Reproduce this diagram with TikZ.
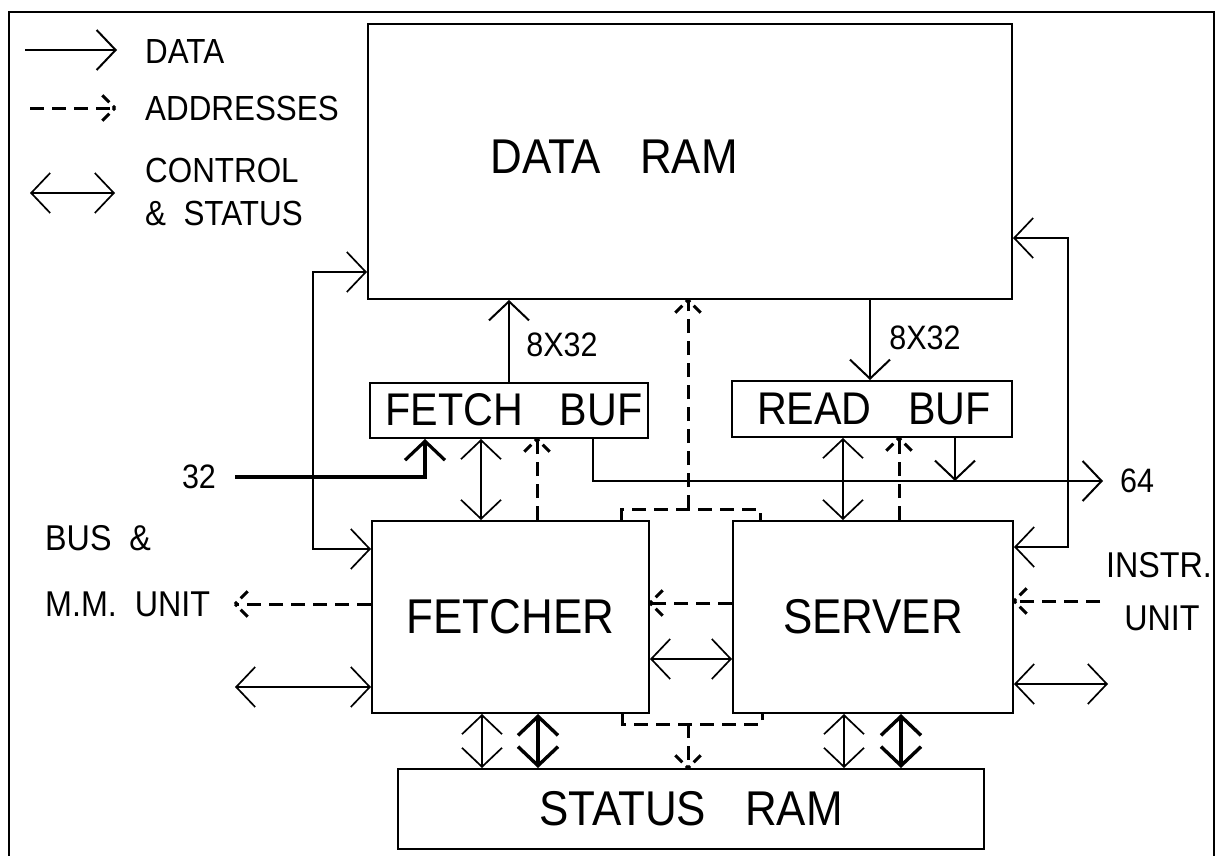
\documentclass[tikz,border=0pt]{standalone}
\usepackage{fontspec}
\setmainfont{Liberation Sans}[FakeStretch=0.9]
\usetikzlibrary{arrows.meta,decorations.markings}

% wide gap between the words of a block title
\newcommand\wgap{\hspace{0.8em}}

\tikzset{
  barb/.tip={Straight Barb[length=19bp,width=40bp]},
  box/.style={draw, line width=2bp, rectangle, inner sep=0pt},
  txt/.style={inner sep=0pt, anchor=center},
  bigfont/.style={font=\fontsize{49}{51}\selectfont},
  big/.style={txt, bigfont},
  bufname/.style={txt, font=\fontsize{46}{48}\selectfont},
  legend/.style={txt, anchor=west, font=\fontsize{35}{37}\selectfont},
  side/.style={txt, font=\fontsize{36}{38}\selectfont},
  width/.style={txt, font=\fontsize{34}{36}\selectfont},
  data/.style={line width=2bp, -barb},
  datathick/.style={line width=3.2bp, -barb},
  ctrl/.style={line width=1.7bp, barb-barb},
  ctrlthick/.style={line width=3.4bp, barb-barb},
  addrline/.style={line width=3bp, dash pattern=on 14bp off 8bp},
  addr/.style={addrline, postaction={decorate},
    decoration={markings, mark=at position 1 with {
      \draw[line width=3bp, dash pattern=on 3bp off 5bp on 10bp off 40bp]
        (0,0) -- (-14bp,14bp) (0,0) -- (-14bp,-14bp);}}},
}

\begin{document}
\begin{tikzpicture}[x=1bp, y=-1bp]
\useasboundingbox (0,0) rectangle (1219,856);

% outer frame (runs off the bottom of the sheet)
\draw[line width=2.5bp] (9,856) -- (9,12) -- (1214,12) -- (1214,856);

% ---- legend ----
\coordinate (lgDa) at (25,50);   \coordinate (lgDb) at (117,50);
\coordinate (lgAa) at (30,108);  \coordinate (lgAb) at (115,108);
\coordinate (lgCa) at (30,193);  \coordinate (lgCb) at (115,193);
\draw[data] (lgDa) -- (lgDb);
\draw[addr] (lgAa) -- (lgAb);
\draw[ctrl] (lgCa) -- (lgCb);
\node[legend] (lgdata) at (145,52) {DATA};
\node[legend] (lgaddr) at (145,108) {ADDRESSES};
\node[legend] (lgctl)  at (145,170) {CONTROL};
\node[legend] (lgst)   at (145,213) {\&\ \ STATUS};

% ---- blocks ----
\node[box, minimum width=644bp, minimum height=275bp] (dataram)   at (690,161.5) {};
\node[big] (dataramtxt) at (614,157) {DATA\wgap RAM};
\node[box, minimum width=278bp, minimum height=55bp]  (fetchbuf)  at (509,410.5) {};
\node[bufname] (fetchbuftxt) at (514,410) {FETCH\wgap BUF};
\node[box, minimum width=280bp, minimum height=56bp]  (readbuf)   at (872,409) {};
\node[bufname] (readbuftxt) at (874,409) {READ\wgap BUF};
\node[box, bigfont, minimum width=277bp, minimum height=192bp] (fetcher)   at (510.5,617) {FETCHER};
\node[box, bigfont, minimum width=280bp, minimum height=192bp] (server)    at (873,617) {SERVER};
\node[box, bigfont, minimum width=586bp, minimum height=80bp]  (statusram) at (691,809) {STATUS\wgap RAM};

% ---- data paths ----
\draw[data] (fetchbuf.north -| 509,0) -- (dataram.south -| 509,0);
\node[width] (w1) at (562,345) {8X32};
\draw[data] (dataram.south -| 870,0) -- (readbuf.north -| 870,0);
\node[width] (w2) at (925,338) {8X32};

\coordinate (in32) at (235,477);
\node[width] (l32) at (199,477) {32};
\draw[datathick] (in32) -| (fetchbuf.south -| 425,0);

\coordinate (out64) at (1103,481);
\coordinate (rbjoin) at (955,481);
\node[width] (l64) at (1137,481) {64};
\draw[data] (fetchbuf.south -| 593,0) |- (out64);
\draw[data] (readbuf.south -| 955,0) -- (rbjoin);

% ---- control & status ----
\coordinate (lcorner) at (313,549);
\coordinate (rcorner) at (1068,547);
\draw[ctrl] (dataram.west |- 0,272) -| (lcorner) -- (fetcher.west |- lcorner);
\draw[ctrl] (dataram.east |- 0,238) -| (rcorner) -- (server.east |- rcorner);

\draw[ctrl] (fetchbuf.south -| 481,0) -- (fetcher.north -| 481,0);
\draw[ctrl] (readbuf.south -| 843,0) -- (server.north -| 843,0);
\draw[ctrl] (fetcher.east |- 0,659) -- (server.west |- 0,659);

\coordinate (lbus) at (235,687);
\coordinate (rbus) at (1108,684);
\draw[ctrl] (lbus) -- (fetcher.west |- lbus);
\draw[ctrl] (server.east |- rbus) -- (rbus);

\draw[ctrl]      (fetcher.south -| 482,0) -- (statusram.north -| 482,0);
\draw[ctrlthick] (fetcher.south -| 538,0) -- (statusram.north -| 538,0);
\draw[ctrl]      (server.south -| 844,0)  -- (statusram.north -| 844,0);
\draw[ctrlthick] (server.south -| 901,0)  -- (statusram.north -| 901,0);

% ---- addresses ----
\draw[addr] (fetcher.north -| 537,0) -- (fetchbuf.south -| 537,0);
\draw[addr] (server.north -| 899,0) -- (readbuf.south -| 899,0);
\draw[addr] (server.west |- 0,603) -- (fetcher.east |- 0,603);

\coordinate (topbus) at (688,509);
\draw[addrline] (fetcher.north -| 621,0) |- (topbus) -| (server.north -| 760,0);
\draw[addr] (topbus) -- (dataram.south -| topbus);

\coordinate (botbus) at (688,724);
\draw[addrline] (fetcher.south -| 622,0) |- (botbus) -| (server.south -| 762,0);
\draw[addr] (botbus) -- (statusram.north -| botbus);

\coordinate (mmunit) at (235,604);
\coordinate (iunit) at (1100,601);
\draw[addr] (fetcher.west |- mmunit) -- (mmunit);
\draw[addr] (iunit) -- (server.east |- iunit);

% ---- outside units ----
\node[side, anchor=west] (bus1) at (45,538) {BUS\ \ \&};
\node[side, anchor=west] (bus2) at (45,604) {M.M.\ \ UNIT};
\node[side] (iu1) at (1159,565) {INSTR.};
\node[side] (iu2) at (1162,618) {UNIT};
\end{tikzpicture}
\end{document}
